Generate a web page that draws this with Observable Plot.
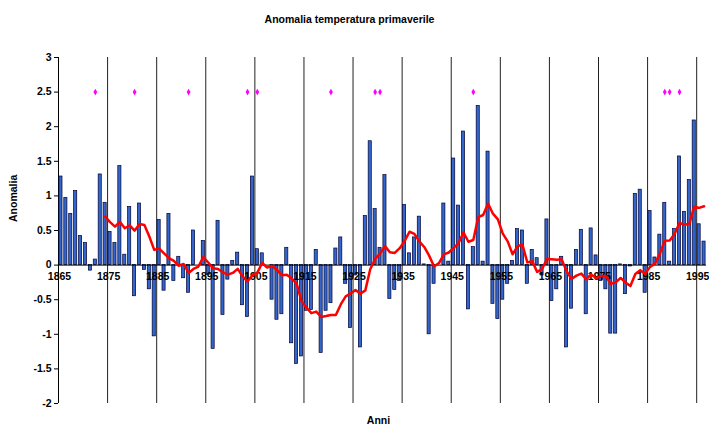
<!DOCTYPE html>
<html><head><meta charset="utf-8">
<script src="https://cdn.jsdelivr.net/npm/d3@7"></script>
<script src="https://cdn.jsdelivr.net/npm/@observablehq/plot@0.6"></script>
<style>
body{margin:0;background:#fff;font-family:"Liberation Sans",Arial,sans-serif;}
#title{height:30px;width:709px;position:relative;}
#title span{position:absolute;left:0;width:699px;text-align:center;top:13px;line-height:12px;font-weight:bold;font-size:10.5px;color:#000;}
</style></head><body>
<div id="title"><span>Anomalia temperatura primaverile</span></div>
<div id="chart"></div>
<script>
const firstYear = 1865;
const anomalies = [
  1.28, 0.97, 0.74, 1.07, 0.42, 0.32, -0.08, 0.08, 1.31, 0.90,
  0.48, 0.32, 1.43, 0.15, 0.84, -0.45, 0.89, -0.07, -0.35, -1.03,
  0.65, -0.37, 0.74, -0.23, 0.12, -0.19, -0.40, 0.50, 0.00, 0.35,
  -0.14, -1.21, 0.64, -0.72, -0.21, 0.06, 0.18, -0.58, -0.75, 1.28,
  0.23, 0.17, 0.00, -0.50, -0.79, -0.71, 0.25, -1.13, -1.43, -1.32,
  -0.66, -0.65, 0.22, -1.27, -0.66, -0.55, 0.24, 0.40, -0.27, -0.91,
  -0.15, -1.19, 0.71, 1.79, 0.81, 0.25, 1.30, -0.49, -0.36, -0.23,
  0.87, 0.17, 0.40, 0.70, 0.01, -1.00, -0.27, 0.00, 0.89, 0.05,
  1.54, 0.86, 1.93, -0.64, 0.26, 2.30, 0.05, 1.64, -0.56, -0.78,
  -0.50, -0.27, 0.06, 0.52, 0.50, -0.27, 0.22, 0.10, -0.15, 0.66,
  -0.52, -0.35, 0.12, -1.19, -0.63, 0.22, 0.51, -0.71, 0.53, 0.14,
  -0.23, -0.35, -0.99, -0.99, 0.01, -0.42, -0.02, 1.03, 1.09, -0.40,
  0.78, 0.11, 0.44, 0.90, 0.05, 0.52, 1.57, 0.77, 1.23, 2.09,
  0.59, 0.34
];
const years = anomalies.map((_, i) => firstYear + i);
const decadeLabels = [1865, 1875, 1885, 1895, 1905, 1915, 1925, 1935, 1945, 1955, 1965, 1975, 1985, 1995];
const decadeLines = [1875, 1885, 1895, 1905, 1915, 1925, 1935, 1945, 1955, 1965, 1975, 1985, 1995];
const markerYears = [1872, 1880, 1891, 1903, 1905, 1920, 1929, 1930, 1949, 1988, 1989, 1991];
const markerLevel = 2.5;

const data = years.map((year, i) => ({year, value: anomalies[i]}));

const chart = Plot.plot({
  width: 709, height: 398,
  marginLeft: 58, marginRight: 3, marginTop: 27, marginBottom: 25,
  style: {fontFamily: '"Liberation Sans", Arial, sans-serif', fontSize: "10.5px", fontWeight: "bold", background: "#fff", color: "#000", overflow: "visible"},
  x: {domain: [1865, 1997], axis: null},
  y: {domain: [-2, 3], ticks: 10, tickSize: 4, tickPadding: 3, tickFormat: d => String(d), label: null},
  marks: [
    Plot.ruleX(decadeLines, {x: d => d, y1: -2, y2: 3, stroke: "#222", strokeWidth: 1}),
    Plot.ruleX([firstYear], {x: d => d, y1: -2, y2: 3, stroke: "#000"}),
    Plot.rect(data, {x1: "year", x2: d => d.year + 1, y1: () => 0, y2: "value", insetLeft: 0.9, insetRight: 0.9, fill: "#3366cc", stroke: "#000033", strokeWidth: 0.7}),
    Plot.ruleY([0], {stroke: "#000"}),
    Plot.text(decadeLabels, {x: d => d, y: () => 0, dy: 12, dx: 1, text: d => String(d), fill: "#000"}),
    Plot.lineY(data, Plot.windowY({k: 10, anchor: "end", strict: true}, {x: d => d.year + 0.5, y: "value", stroke: "#ff0000", strokeWidth: 2.5})),
    Plot.dot(markerYears, {x: d => d + 0.5, y: () => markerLevel, symbol: "diamond", r: 2, fill: "#ff00ff"}),
    Plot.text(["Anomalia"], {frameAnchor: "left", rotate: -90, dx: -44.5, dy: -8.5, text: d => d, fill: "#000"}),
    Plot.text(["Anni"], {frameAnchor: "bottom", dx: -4, dy: 20, text: d => d, fill: "#000"})
  ]
});
document.getElementById("chart").appendChild(chart);
</script>
</body></html>
